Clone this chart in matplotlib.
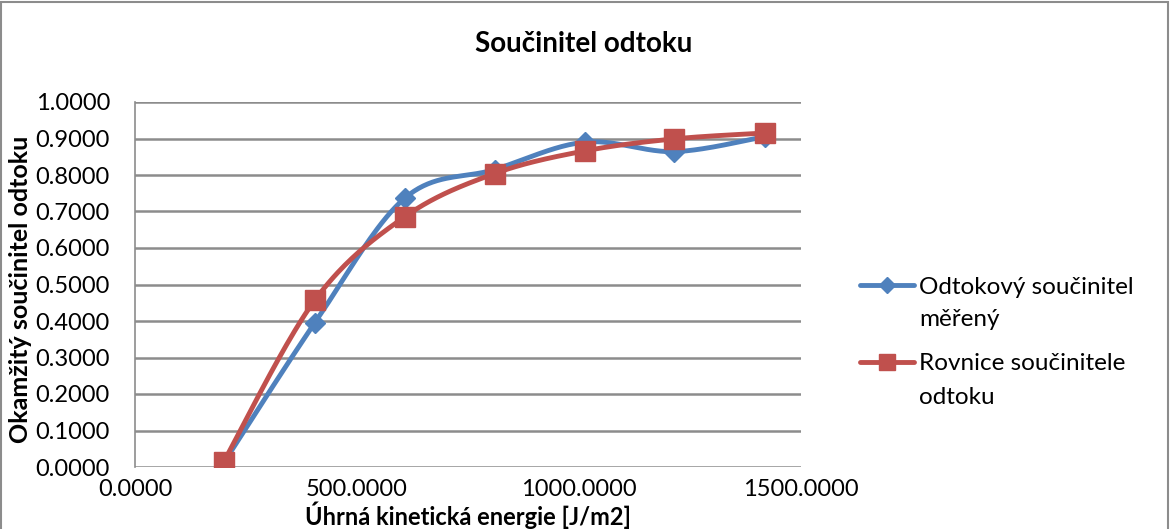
"""Součinitel odtoku - measured vs. equation"""

import matplotlib.pyplot as plt
import numpy as np
from matplotlib.lines import Line2D
from matplotlib.patches import Rectangle

plt.rcParams['font.family'] = ['Lato', 'DejaVu Sans']

# data
energy = [200, 405, 608, 810, 1013, 1215, 1418]
measured = [0.012, 0.395, 0.737, 0.815, 0.890, 0.864, 0.905]
equation = [0.015, 0.457, 0.686, 0.804, 0.866, 0.899, 0.915]

labels = ['Odtokový součinitel\nměřený', 'Rovnice součinitele\nodtoku']
title = 'Součinitel odtoku'
xlabel = 'Úhrná kinetická energie [J/m2]'
ylabel = 'Okamžitý součinitel odtoku'

BLUE = '#4F81BD'
RED = '#C0504D'
GRID = '#8C8C8C'

W, H = 1176, 529


def smooth(xs, ys, n=40):
    """Excel-like smoothed line (Bezier through points, Catmull-Rom tangents)"""
    p = np.column_stack([xs, ys]).astype(float)
    p_ext = np.vstack([p[0], p, p[-1]])
    out = []
    t = np.linspace(0, 1, n)[:, None]
    for i in range(len(p) - 1):
        p0, p1, p2, p3 = p_ext[i], p_ext[i + 1], p_ext[i + 2], p_ext[i + 3]
        c1 = p1 + (p2 - p0) / 6
        c2 = p2 - (p3 - p1) / 6
        seg = ((1 - t) ** 3) * p1 + 3 * ((1 - t) ** 2) * t * c1 + 3 * (1 - t) * t ** 2 * c2 + t ** 3 * p2
        out.append(seg)
    pts = np.vstack(out)
    return pts[:, 0], pts[:, 1]


fig = plt.figure(figsize=(W / 100, H / 100), dpi=100)
ax = fig.add_axes([135 / W, 1 - 467 / H, (801 - 135) / W, (467 - 102) / H])

# outer chart frame
fig.patches.append(Rectangle((1 / W, -0.05), 1167 / W, 1.05 - 2 / H,
                             transform=fig.transFigure, fill=False,
                             edgecolor='#8C8C8C', linewidth=1.5))

styles = [(measured, BLUE, 'D', 10), (equation, RED, 's', 14.5)]
for ys, color, marker, ms in styles:
    sx, sy = smooth(energy, ys)
    ax.plot(sx, sy, color=color, linewidth=3.5, solid_capstyle='round', zorder=3)
    ax.plot(energy, ys, linestyle='none', marker=marker, markersize=ms,
            color=color, markeredgecolor=color, zorder=4)

ax.set_xlim(0, 1500)
ax.set_ylim(0, 1.0)
ax.set_xticks([0, 500, 1000, 1500])
ax.set_yticks(np.arange(0, 1.01, 0.1))
ax.xaxis.set_major_formatter(lambda v, pos: f'{v:.4f}')
ax.yaxis.set_major_formatter(lambda v, pos: f'{v:.4f}')
ax.tick_params(length=0, labelsize=17)
ax.tick_params(axis='y', pad=18)
ax.tick_params(axis='x', pad=9)
ax.grid(axis='y', color=GRID, linewidth=1.8)
ax.set_axisbelow(True)
for side in ['top', 'right', 'bottom']:
    ax.spines[side].set_visible(False)
ax.spines['left'].set_color(GRID)
ax.spines['left'].set_linewidth(1.2)

fig.text(584 / W, 1 - 44 / H, title, ha='center', va='center',
         fontsize=20, fontweight='bold')
fig.text(468 / W, 1 - 515 / H, xlabel, ha='center', va='center',
         fontsize=17, fontweight='bold')
fig.text(21 / W, 1 - 289 / H, ylabel, ha='center', va='center',
         rotation=90, fontsize=18, fontweight='bold')

# legend drawn by hand: handle sits on the first text line
legend_rows = [285, 362]
for (ys, color, marker, ms), label, row in zip(styles, labels, legend_rows):
    fig.add_artist(Line2D([860 / W, 914 / W], [1 - row / H] * 2,
                          transform=fig.transFigure, color=color, linewidth=3.5,
                          solid_capstyle='round'))
    fig.add_artist(Line2D([887 / W], [1 - row / H], transform=fig.transFigure,
                          marker=marker, markersize=ms * 0.8, color=color,
                          markeredgecolor=color, linestyle='none'))
    for k, line in enumerate(label.split('\n')):
        fig.text(919 / W, 1 - (row + 2 + 33 * k) / H, line, ha='left',
                 va='center', fontsize=17.5)

fig.savefig('out.png', dpi=100)
